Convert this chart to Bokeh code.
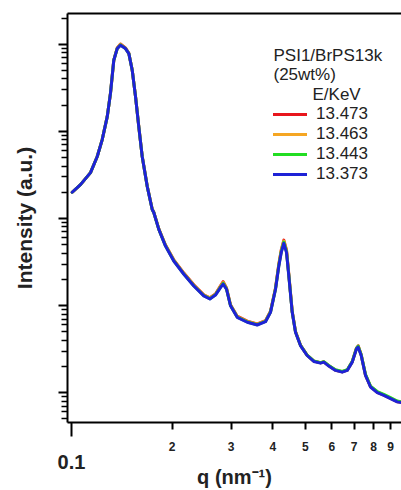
from bokeh.plotting import figure
from bokeh.models import LogAxis, FixedTicker, Legend, LegendItem, Label, Range1d
from bokeh.embed import file_html
from bokeh.resources import INLINE

# ---- data ----
q = [0.1005, 0.1064, 0.1140, 0.1194, 0.1235, 0.1279, 0.1308, 0.1338, 0.1370, 0.1401,
     0.1450, 0.1484, 0.1519, 0.1554, 0.1589, 0.1627, 0.1684, 0.1743, 0.1762, 0.1824,
     0.1910, 0.2022, 0.2167, 0.2321, 0.2486, 0.2592, 0.2694, 0.2789, 0.2841, 0.2907,
     0.2988, 0.3129, 0.3353, 0.3592, 0.3802, 0.3935, 0.4073, 0.4167, 0.4237, 0.4313,
     0.4393, 0.4463, 0.4569, 0.4674, 0.4836, 0.5063, 0.5301, 0.5553, 0.5681, 0.5876,
     0.6155, 0.6447, 0.6673, 0.6907, 0.7112, 0.7195, 0.7346, 0.7567, 0.7832, 0.8204,
     0.8584, 0.8989, 0.9413, 0.9694]

i_13473 = [200, 245, 336, 515, 800, 1476, 2754, 6600, 9100, 10100,
           9100, 7900, 5080, 2520, 1140, 518, 236, 128, 118, 76.0,
           49.6, 33.5, 23.6, 17.3, 13.3, 12.3, 13.6, 16.9, 18.8, 15.9,
           10.2, 7.55, 6.62, 6.16, 6.70, 8.60, 15.9, 30.0, 43.5, 56.5,
           43.5, 23.0, 8.60, 5.05, 3.52, 2.70, 2.30, 2.20, 2.26, 2.04,
           1.81, 1.73, 1.81, 2.26, 3.25, 3.45, 2.72, 1.59, 1.17, 1.01,
           0.935, 0.857, 0.786, 0.772]

i_13463 = [200, 245, 336, 515, 800, 1476, 2754, 6580, 9000, 10000,
           9000, 7860, 5060, 2510, 1138, 516, 235, 127.5, 117.5, 75.5,
           49.2, 33.2, 23.4, 17.1, 13.2, 12.2, 13.5, 16.6, 18.4, 15.7,
           10.1, 7.48, 6.56, 6.10, 6.65, 8.50, 15.7, 29.5, 42.8, 55.0,
           42.8, 22.6, 8.50, 5.00, 3.50, 2.69, 2.30, 2.20, 2.26, 2.04,
           1.82, 1.74, 1.82, 2.27, 3.22, 3.40, 2.70, 1.60, 1.18, 1.02,
           0.945, 0.866, 0.793, 0.778]

i_13443 = [200, 245, 336, 515, 800, 1476, 2754, 6570, 8950, 9850,
           8950, 7840, 5050, 2505, 1136, 515, 234, 127, 117, 75.1,
           48.5, 32.7, 23.0, 16.9, 13.0, 12.0, 13.3, 16.3, 18.0, 15.5,
           10.0, 7.38, 6.48, 6.03, 6.58, 8.42, 15.5, 28.9, 41.5, 53.5,
           41.5, 22.2, 8.42, 4.98, 3.50, 2.70, 2.31, 2.21, 2.27, 2.05,
           1.83, 1.75, 1.83, 2.28, 3.24, 3.42, 2.72, 1.62, 1.19, 1.03,
           0.955, 0.875, 0.800, 0.785]

i_13373 = [200, 245, 336, 515, 800, 1476, 2754, 6561, 8930, 9750,
           8930, 7830, 5045, 2500, 1135, 515, 234, 127, 117, 74.9,
           48.2, 32.5, 22.9, 16.8, 12.9, 11.9, 13.2, 16.1, 17.6, 15.4,
           9.95, 7.33, 6.43, 5.98, 6.53, 8.36, 15.4, 28.5, 40.5, 51.8,
           40.5, 21.9, 8.36, 4.94, 3.47, 2.67, 2.28, 2.18, 2.24, 2.02,
           1.80, 1.72, 1.80, 2.24, 3.18, 3.33, 2.67, 1.58, 1.16, 1.00,
           0.931, 0.854, 0.783, 0.769]

energies = ["13.473", "13.463", "13.443", "13.373"]
series = [i_13473, i_13463, i_13443, i_13373]
colors = ["#e8161c", "#f5a623", "#22dd22", "#1e22d6"]

x_major = [0.2, 0.3, 0.4, 0.5, 0.6, 0.7, 0.8, 0.9]
x_major_labels = ["2", "3", "4", "5", "6", "7", "8", "9"]
y_decades = [1, 10, 100, 1000, 10000]

header_lines = ["PSI1/BrPS13k", "(25wt%)"]
legend_title = "E/KeV"

# ---- figure ----
FONT = "Liberation Sans"
p = figure(width=401, height=490, x_axis_type="log", y_axis_type="log",
           x_range=Range1d(0.09729, 0.9695), y_range=Range1d(0.454, 22600),
           output_backend="svg", toolbar_location=None,
           min_border_left=67, min_border_right=0, min_border_top=13, min_border_bottom=10)
p.outline_line_color = None
p.xgrid.visible = False
p.ygrid.visible = False
p.background_fill_color = "white"

renderers = []
for e, ys, c in zip(energies, series, colors):
    r = p.line(q, ys, line_color=c, line_width=3, line_join="round", line_cap="round")
    renderers.append(r)

# y axis
ya = p.yaxis[0]
y_minor = [k * 10.0 ** n for n in range(-1, 5) for k in range(2, 10)]
ya.ticker = FixedTicker(ticks=y_decades, minor_ticks=y_minor)
ya.major_label_overrides = {d: "" for d in y_decades}
ya.major_label_standoff = 0
ya.axis_line_width = 2
ya.axis_line_color = "black"
ya.major_tick_out = 9
ya.major_tick_in = 0
ya.minor_tick_out = 6
ya.minor_tick_in = 0
ya.major_tick_line_width = 2
ya.minor_tick_line_width = 1.5
ya.axis_label = "Intensity (a.u.)"
ya.axis_label_text_font = FONT
ya.axis_label_text_font_style = "bold"
ya.axis_label_text_font_size = "21px"
ya.axis_label_text_color = "#222222"
ya.axis_label_standoff = 23

# bottom axis 1: 2..9
xa = p.xaxis[0]
xa.ticker = FixedTicker(ticks=x_major, minor_ticks=[0.1])
xa.major_label_overrides = {v: s for v, s in zip(x_major, x_major_labels)}
xa.axis_line_width = 2
xa.axis_line_color = "black"
xa.major_tick_out = 7
xa.major_tick_in = 0
xa.minor_tick_out = 14
xa.minor_tick_in = 0
xa.major_tick_line_width = 2
xa.minor_tick_line_width = 2
xa.major_label_text_font = FONT
xa.major_label_text_font_style = "bold"
xa.major_label_text_font_size = "12px"
xa.major_label_text_color = "#222222"
xa.major_label_standoff = 5

# bottom axis 2: 0.1 and title
xb = LogAxis(ticker=FixedTicker(ticks=[0.1]), major_label_overrides={0.1: "0.1"})
xb.axis_line_color = None
xb.major_tick_line_color = None
xb.minor_tick_line_color = None
xb.major_tick_out = 0
xb.major_tick_in = 0
xb.major_label_standoff = 1
xb.major_label_text_font = FONT
xb.major_label_text_font_style = "bold"
xb.major_label_text_font_size = "20px"
xb.major_label_text_color = "#222222"
xb.axis_label = "q (nm\u207b\u00b9)"
xb.axis_label_text_font = FONT
xb.axis_label_text_font_style = "bold"
xb.axis_label_text_font_size = "20px"
xb.axis_label_text_color = "#222222"
xb.axis_label_standoff = -6
p.add_layout(xb, "below")

# top frame line
xt = LogAxis(ticker=FixedTicker(ticks=[]))
xt.axis_line_width = 2
xt.axis_line_color = "black"
xt.major_tick_out = 0
xt.major_tick_in = 0
xt.minor_tick_out = 0
xt.minor_tick_in = 0
xt.major_label_standoff = 0
xt.major_label_text_font_size = "1px"
p.add_layout(xt, "above")

# legend header
for txt, yy in zip(header_lines, [367, 348]):
    p.add_layout(Label(x=206, y=yy, x_units="screen", y_units="screen", text=txt,
                       text_font=FONT, text_font_size="17px", text_color="#222222",
                       text_baseline="middle", text_align="left"))
p.add_layout(Label(x=245, y=328, x_units="screen", y_units="screen", text=legend_title,
                   text_font=FONT, text_font_size="17px", text_color="#222222",
                   text_baseline="middle", text_align="left"))

legend = Legend(items=[LegendItem(label=e, renderers=[r]) for e, r in zip(energies, renderers)],
                location=(206, 238), orientation="vertical",
                glyph_width=34, glyph_height=20, label_height=20, label_standoff=9,
                spacing=0, padding=0, margin=0,
                label_text_font=FONT, label_text_font_size="17px", label_text_color="#222222",
                border_line_color=None, background_fill_alpha=0)
p.add_layout(legend)

open("out.html", "w").write(file_html(p, INLINE))
